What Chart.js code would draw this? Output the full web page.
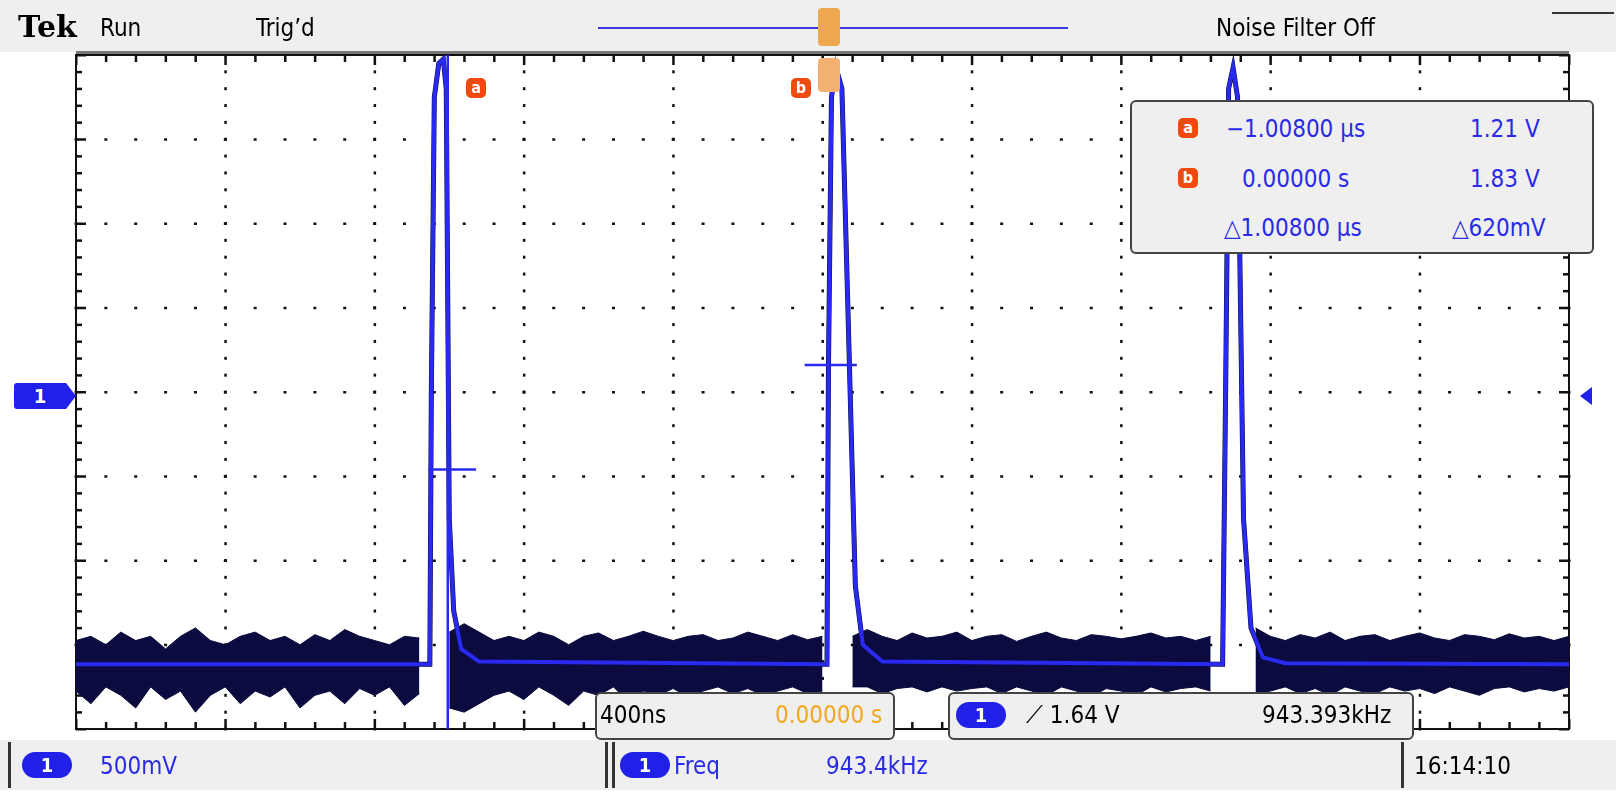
<!DOCTYPE html>
<html>
<head>
<meta charset="utf-8">
<script src="https://cdn.jsdelivr.net/npm/chart.js@4/dist/chart.umd.min.js"></script>
<style>
  body { margin: 0; width: 1616px; height: 797px; background: #fff; overflow: hidden; position: relative;
         font-family: "DejaVu Sans Condensed", "DejaVu Sans", sans-serif; }
  #wrap { position: absolute; left: 0; top: 0; width: 1616px; height: 797px; }
  .t { position: absolute; font-size: 24px; line-height: 1; white-space: nowrap; }
  .bar { position: absolute; background: #efefef; }
  .box { position: absolute; background: #efefef; border: 2px solid #444; border-radius: 6px; }
  .pill { position: absolute; background: #2020e8; color: #fff; border-radius: 14px; font-size: 20px;
          text-align: center; font-weight: bold; }
  .mk { position: absolute; width: 20px; height: 20px; background: #f04a10; border-radius: 5px; color: #fff;
        font-size: 16px; text-align: center; line-height: 20px; font-weight: bold; }
  .blue { color: #2a2ae8; }
</style>
</head>
<body>
<div class="bar" style="left:0;top:0;width:1616px;height:52px"></div>
<div class="bar" style="left:0;top:740px;width:1616px;height:50px"></div>
<div id="wrap"><canvas id="scope" width="1616" height="797"></canvas></div>

<div class="t" style="left:18px;top:12px;font-family:'DejaVu Serif',serif;font-weight:bold;font-size:30px">Tek</div>
<div class="t" style="left:100px;top:16px">Run</div>
<div class="t" style="left:256px;top:16px">Trig’d</div>
<div style="position:absolute;left:598px;top:27px;width:470px;height:2px;background:#3a3ae0"></div>
<div style="position:absolute;left:818px;top:8px;width:22px;height:38px;background:#f0a850;border-radius:4px"></div>
<div style="position:absolute;left:818px;top:58px;width:22px;height:34px;background:#f3b070;border-radius:4px"></div>
<div class="t" style="left:1216px;top:16px">Noise Filter Off</div>
<div style="position:absolute;left:1552px;top:12px;width:62px;height:2px;background:#333"></div>

<div class="mk" style="left:466px;top:78px">a</div>
<div class="mk" style="left:791px;top:78px">b</div>

<div class="box" style="left:1130px;top:100px;width:460px;height:150px"></div>
<div class="mk" style="left:1178px;top:118px">a</div>
<div class="mk" style="left:1178px;top:168px">b</div>
<div class="t blue" style="left:1226px;top:117px">−1.00800 µs</div>
<div class="t blue" style="left:1242px;top:167px">0.00000 s</div>
<div class="t blue" style="left:1224px;top:216px">△1.00800 µs</div>
<div class="t blue" style="left:1470px;top:117px">1.21 V</div>
<div class="t blue" style="left:1470px;top:167px">1.83 V</div>
<div class="t blue" style="left:1452px;top:216px">△620mV</div>

<div class="pill" style="left:14px;top:383px;width:52px;height:26px;border-radius:3px 0 0 3px;line-height:26px">1</div>
<div style="position:absolute;left:66px;top:383px;width:0;height:0;border-top:13px solid transparent;border-bottom:13px solid transparent;border-left:10px solid #2020e8"></div>
<div style="position:absolute;left:1580px;top:387px;width:0;height:0;border-top:9px solid transparent;border-bottom:9px solid transparent;border-right:12px solid #2020e8"></div>

<div class="box" style="left:595px;top:692px;width:296px;height:44px"></div>
<div class="t" style="left:600px;top:703px">400ns</div>
<div class="t" style="left:775px;top:703px;color:#f0a820">0.00000 s</div>
<div class="box" style="left:948px;top:692px;width:462px;height:44px"></div>
<div class="pill" style="left:956px;top:702px;width:50px;height:26px;line-height:26px">1</div>
<div class="t" style="left:1026px;top:703px">⟋ 1.64 V</div>
<div class="t" style="left:1262px;top:703px">943.393kHz</div>

<div style="position:absolute;left:8px;top:742px;width:594px;height:46px;border-left:3px solid #333;border-right:3px solid #333"></div>
<div class="pill" style="left:22px;top:752px;width:50px;height:26px;line-height:26px">1</div>
<div class="t blue" style="left:100px;top:754px">500mV</div>
<div style="position:absolute;left:612px;top:742px;width:786px;height:46px;border-left:3px solid #333;border-right:3px solid #333"></div>
<div class="pill" style="left:620px;top:752px;width:50px;height:26px;line-height:26px">1</div>
<div class="t blue" style="left:674px;top:754px">Freq</div>
<div class="t blue" style="left:826px;top:754px">943.4kHz</div>
<div class="t" style="left:1414px;top:754px">16:14:10</div>

<script>
// horizontal divisions (400ns/div), vertical divisions (500mV/div)
const noiseX = [0,0.1,0.2,0.3,0.4,0.5,0.6,0.7,0.8,0.9,1,1.1,1.2,1.3,1.4,1.5,1.6,1.7,1.8,1.9,2,2.1,2.2,2.3,2.4,2.5,2.6,2.7,2.8,2.9,
  3,3.1,3.2,3.3,3.4,3.5,3.6,3.7,3.8,3.9,4,4.1,4.2,4.3,4.4,4.5,4.6,4.7,4.8,4.9,5,5.1,5.2,5.3,5.4,5.5,5.6,5.7,5.8,5.9,
  6,6.1,6.2,6.3,6.4,6.5,6.6,6.7,6.8,6.9,7,7.1,7.2,7.3,7.4,7.5,7.6,7.7,7.8,7.9,8,8.1,8.2,8.3,8.4,8.5,8.6,8.7,8.8,8.9,
  9,9.1,9.2,9.3,9.4,9.5,9.6,9.7,9.8,9.9,10];
const noiseHi = [-2.95,-2.9,-3.0,-2.85,-2.95,-2.9,-3.05,-2.9,-2.8,-2.95,
  -3.0,-2.9,-2.85,-2.95,-2.9,-3.0,-2.88,-2.95,-2.82,-2.9,
  -2.95,-3.0,-2.9,-2.92,null,-2.85,-2.75,-2.85,-2.95,-2.9,
  -2.95,-2.85,-2.9,-3.0,-2.9,-2.86,-2.95,-2.9,-2.84,-2.9,
  -2.95,-2.9,-2.88,-2.95,-2.92,-2.85,-2.9,-2.95,-2.88,-2.94,
  -2.9,null,-2.9,-2.82,-2.9,-2.95,-2.86,-2.92,-2.9,-2.85,
  -2.95,-2.9,-2.88,-2.96,-2.9,-2.85,-2.92,-2.95,-2.88,-2.9,
  -2.93,-2.9,-2.86,-2.92,-2.9,-2.95,-2.9,null,null,-2.8,
  -2.9,-2.95,-2.88,-2.92,-2.85,-2.95,-2.9,-2.88,-2.95,-2.9,
  -2.86,-2.92,-2.95,-2.88,-2.9,-2.94,-2.87,-2.92,-2.9,-2.95,-2.9];
const noiseLo = [-3.55,-3.7,-3.5,-3.6,-3.75,-3.5,-3.65,-3.55,-3.8,-3.6,
  -3.5,-3.7,-3.55,-3.62,-3.5,-3.75,-3.6,-3.55,-3.7,-3.52,
  -3.6,-3.5,-3.72,-3.58,null,-3.75,-3.8,-3.7,-3.6,-3.55,
  -3.65,-3.5,-3.6,-3.72,-3.55,-3.6,-3.5,-3.68,-3.55,-3.6,
  -3.52,-3.62,-3.55,-3.5,-3.58,-3.52,-3.6,-3.55,-3.5,-3.58,
  -3.55,null,-3.5,-3.5,-3.58,-3.52,-3.5,-3.56,-3.5,-3.55,
  -3.52,-3.5,-3.58,-3.5,-3.55,-3.6,-3.5,-3.55,-3.62,-3.52,
  -3.55,-3.6,-3.5,-3.56,-3.52,-3.5,-3.55,null,null,-3.6,
  -3.55,-3.5,-3.58,-3.52,-3.6,-3.5,-3.55,-3.58,-3.5,-3.55,
  -3.52,-3.58,-3.5,-3.55,-3.6,-3.52,-3.5,-3.56,-3.52,-3.55,-3.5];
const traceX = [0,2.37,2.38,2.40,2.43,2.46,2.48,2.50,2.53,2.58,2.70,
  5.03,5.04,5.06,5.09,5.13,5.17,5.22,5.27,5.40,
  7.68,7.70,7.72,7.75,7.78,7.82,7.87,7.95,8.10,10];
const traceY = [-3.23,-3.23,0,3.5,3.9,3.95,3.6,-1.5,-2.6,-3.05,-3.2,
  -3.23,0.3,3.5,3.85,3.6,1.0,-2.3,-3.0,-3.2,
  -3.23,0,3.6,3.85,3.5,-1.5,-2.8,-3.15,-3.22,-3.23];
const cursorA = 2.49;
const hCursorA = { y: -0.92, x0: 2.36, x1: 2.68 };
const hCursorB = { y: 0.32, x0: 4.88, x1: 5.23 };

const pts = (xs, ys) => xs.map((x, i) => ({ x: x, y: ys[i] }));

const gridPlugin = {
  id: 'tekGrid',
  beforeDatasetsDraw(c) {
    const ctx = c.ctx, xs = c.scales.x, ys = c.scales.y, a = c.chartArea;
    ctx.save();
    ctx.fillStyle = '#111';
    for (let i = 1; i < 10; i++) {
      const px = xs.getPixelForValue(i);
      for (let j = 0; j <= 40; j++) ctx.fillRect(px - 1, ys.getPixelForValue(-4 + j * 0.2) - 1.5, 2.5, 3);
    }
    for (let j = 1; j < 8; j++) {
      const py = ys.getPixelForValue(-4 + j);
      for (let i = 0; i <= 50; i++) ctx.fillRect(xs.getPixelForValue(i * 0.2) - 1.5, py - 1, 3, 2.5);
    }
    for (let i = 0; i <= 50; i++) {
      const px = xs.getPixelForValue(i * 0.2), L = i % 5 === 0 ? 10 : 7;
      ctx.fillRect(px - 1, a.top, 2.5, L);
      ctx.fillRect(px - 1, a.bottom - L, 2.5, L);
    }
    for (let j = 0; j <= 40; j++) {
      const py = ys.getPixelForValue(-4 + j * 0.2), L = j % 5 === 0 ? 10 : 6;
      ctx.fillRect(a.left, py - 1, L, 2.5);
      ctx.fillRect(a.right - L, py - 1, L, 2.5);
    }
    ctx.fillStyle = '#777';
    ctx.fillRect(a.left, a.top - 4, a.right - a.left, 3);
    ctx.strokeStyle = '#111';
    ctx.lineWidth = 2;
    ctx.strokeRect(a.left, a.top, a.right - a.left, a.bottom - a.top);
    ctx.restore();
  }
};

new Chart(document.getElementById('scope'), {
  type: 'scatter',
  data: {
    datasets: [
      { order: 5, data: pts(noiseX, noiseHi), showLine: true, borderColor: '#0a0a3a', borderWidth: 1, pointRadius: 0, spanGaps: false },
      { order: 4, data: pts(noiseX, noiseLo), showLine: true, borderColor: '#0a0a3a', borderWidth: 1, pointRadius: 0, spanGaps: false,
        fill: '-1', backgroundColor: '#0b0b40' },
      { order: 3, data: pts(traceX, traceY), showLine: true, borderColor: '#0a0a50', borderWidth: 5, pointRadius: 0, tension: 0 },
      { order: 2, data: pts(traceX, traceY), showLine: true, borderColor: '#2a2aee', borderWidth: 4, pointRadius: 0, tension: 0 },
      { order: 1, data: [{ x: cursorA, y: -4 }, { x: cursorA, y: 4 }], showLine: true, borderColor: '#2a2aee', borderWidth: 2.5, pointRadius: 0 },
      { order: 1, data: [{ x: hCursorA.x0, y: hCursorA.y }, { x: hCursorA.x1, y: hCursorA.y }], showLine: true, borderColor: '#2a2aee', borderWidth: 2.5, pointRadius: 0 },
      { order: 1, data: [{ x: hCursorB.x0, y: hCursorB.y }, { x: hCursorB.x1, y: hCursorB.y }], showLine: true, borderColor: '#2a2aee', borderWidth: 2.5, pointRadius: 0 }
    ]
  },
  options: {
    responsive: false,
    animation: false,
    layout: { padding: { left: 76, right: 47, top: 55, bottom: 68 } },
    plugins: { legend: { display: false }, tooltip: { enabled: false } },
    scales: {
      x: { type: 'linear', min: 0, max: 10, display: false },
      y: { type: 'linear', min: -4, max: 4, display: false }
    }
  },
  plugins: [gridPlugin]
});
</script>
</body>
</html>
